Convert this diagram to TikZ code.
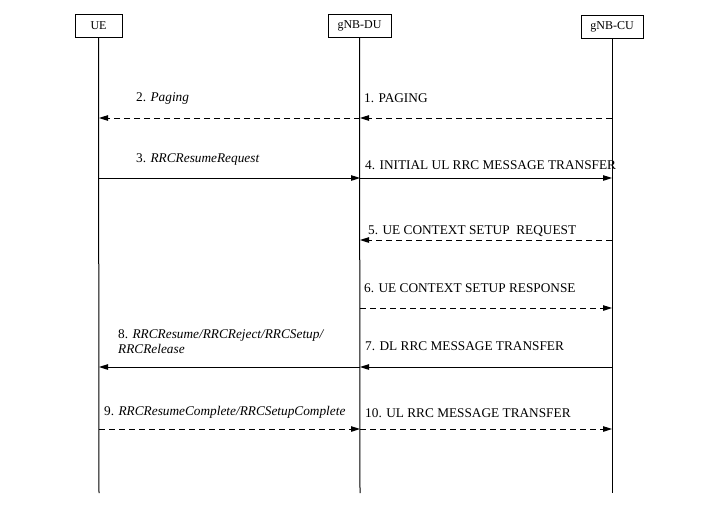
\documentclass[tikz,border=0pt]{standalone}
\usepackage{fontspec}
\setmainfont{Liberation Serif}
\usetikzlibrary{arrows.meta}
\begin{document}
\begin{tikzpicture}[x=1pt,y=-1pt,
  ent/.style={draw,line width=1pt,minimum height=23pt,inner sep=0pt,font=\fontsize{12}{14}\selectfont},
  life/.style={line width=1pt},
  msg/.style={line width=1pt,-{Triangle[length=9pt,width=5.5pt]}},
  dmsg/.style={msg,dash pattern=on 6pt off 4pt},
  lbl/.style={anchor=west,inner sep=0pt,font=\fontsize{13.3}{15.5}\selectfont}]
\useasboundingbox (0,0) rectangle (706,512);
\node[ent,minimum width=47pt] (ue) at (98.5,25.5) {UE};
\node[ent,minimum width=63pt] (du) at (359.5,25.5) {gNB-DU};
\node[ent,minimum width=62pt] (cu) at (612,27) {gNB-CU};
\coordinate (ueb) at (99,493);
\coordinate (dub) at (360,493);
\coordinate (cub) at (612,493);
\draw[life] (ue.south) -- (ueb);
\draw[life] (du.south) -- (dub);
\draw[life] (cu.south) -- (cub);
% message anchors
\foreach \n/\y in {1/118,3/178,5/240,6/308,7/367,9/429}{
  \coordinate (u\n) at (99,\y);
  \coordinate (d\n) at (360,\y);
  \coordinate (c\n) at (612,\y);
}
\draw[dmsg] (c1) -- (d1);
\draw[dmsg] (d1) -- (u1);
\draw[msg] (u3) -- (d3);
\draw[msg] (d3) -- (c3);
\draw[dmsg] (c5) -- (d5);
\draw[dmsg] (d6) -- (c6);
\draw[msg] (c7) -- (d7);
\draw[msg] (d7) -- (u7);
\draw[dmsg] (u9) -- (d9);
\draw[dmsg] (d9) -- (c9);
% labels
\node[lbl] (l1) at (364,98) {1. PAGING};
\node[lbl] (l2) at (136,99) {2. \textit{Paging}};
\node[lbl] (l3) at (136,160) {3. \textit{RRCResumeRequest}};
\node[lbl] (l4) at (365,165) {4. INITIAL UL RRC MESSAGE TRANSFER};
\node[lbl] (l5) at (368,231) {5. UE CONTEXT SETUP\ \ REQUEST};
\node[lbl] (l6) at (364,288) {6. UE CONTEXT SETUP RESPONSE};
\node[lbl] (l7) at (365,346) {7. DL RRC MESSAGE TRANSFER};
\node[lbl,align=left] (l8) at (118,341.5) {8. \textit{RRCResume/RRCReject/RRCSetup/}\\\textit{RRCRelease}};
\node[lbl] (l9) at (104,412) {9. \textit{RRCResumeComplete/RRCSetupComplete}};
\node[lbl] (l10) at (365,413) {10. UL RRC MESSAGE TRANSFER};
\end{tikzpicture}
\end{document}
